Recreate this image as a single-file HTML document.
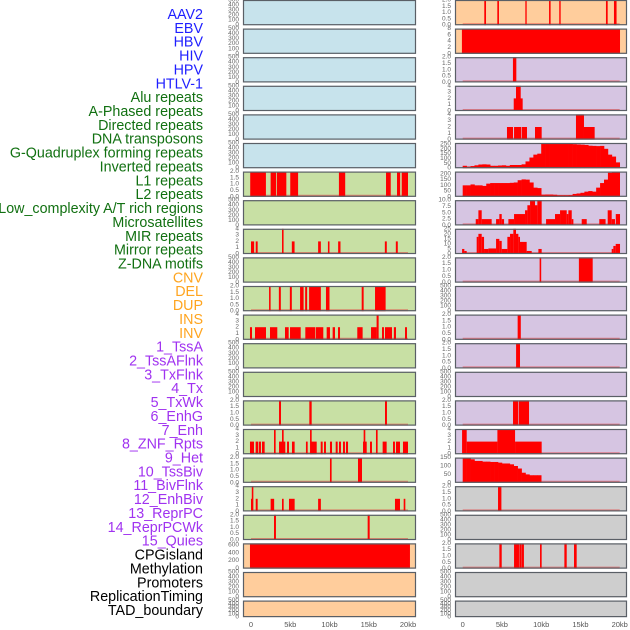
<!DOCTYPE html>
<html><head><meta charset="utf-8"><style>
html,body{margin:0;padding:0;background:#fff;width:630px;height:630px;overflow:hidden}
svg{display:block;font-family:"Liberation Sans",sans-serif}
</style></head><body>
<svg id="chart" width="630" height="630" viewBox="0 0 630 630" xmlns="http://www.w3.org/2000/svg"></svg>
<script>
// ---- data ----
const labels = ["AAV2","EBV","HBV","HIV","HPV","HTLV-1","Alu repeats","A-Phased repeats","Directed repeats","DNA transposons","G-Quadruplex forming repeats","Inverted repeats","L1 repeats","L2 repeats","Low_complexity A/T rich regions","Microsatellites","MIR repeats","Mirror repeats","Z-DNA motifs","CNV","DEL","DUP","INS","INV","1_TssA","2_TssAFlnk","3_TxFlnk","4_Tx","5_TxWk","6_EnhG","7_Enh","8_ZNF_Rpts","9_Het","10_TssBiv","11_BivFlnk","12_EnhBiv","13_ReprPC","14_ReprPCWk","15_Quies","CPGisland","Methylation","Promoters","ReplicationTiming","TAD_boundary"];
const labelGroups = [6,13,5,15,5];
const groupColors = ["#1f1fff","#117011","#ffa520","#a032f0","#000000"];
const xTicks = [0,5,10,15,20];
const xTickLabels = ["0","5kb","10kb","15kb","20kb"];
const leftBg = ["b","b","b","b","b","b","g","g","g","g","g","g","g","g","g","g","g","g","g","o","o","o"];
const rightBg = ["o","o","p","p","p","p","p","p","p","p","p","p","p","p","p","p","p","y","y","y","y","y"];
const leftMax = [500,500,500,500,500,500,2,500,4,500,2,4,500,500,2,4,2,4,2,640,500,500];
const rightMax = [2,8,2,4,4,260,220,10,25,2,500,2,2,500,2,4,150,2,500,2,500,500];
const leftTicks = {2:[0,0.5,1,1.5,2],4:[0,1,2,3,4],500:[0,100,200,300,400,500],640:[0,200,400,600]};
const rightTicksSpecial = {5:[0,50,100,150,200,250],6:[0,50,100,150,200],7:[0,2.5,5,7.5,10],8:[0,5,10,15,20,25],16:[0,50,100,150],1:[0,2,4,6,8]};
// intervals [startKb,endKb,value]
const leftBars = {
 6:[[-0.1,1.9,2],[2.5,3.2,2],[3.3,4.5,2],[5.0,6.0,2],[11.2,12.0,2],[17.2,17.8,2],[18.6,19.0,2],[19.2,20.0,2]],
 8:[[0,0.4,2],[0.6,0.85,2],[3.95,4.15,4],[5.2,5.55,2],[8.55,8.9,2],[9.8,10.0,2],[11.1,11.4,2],[17.05,17.3,2],[18.45,18.7,2]],
 10:[[2.3,2.5,2],[3.55,3.8,2],[4.95,5.2,2],[6.25,6.7,2],[6.9,7.15,2],[7.4,8.9,2],[9.55,10.0,2],[14.1,14.35,2],[15.8,17.15,2]],
 11:[[-0.13,0.13,2],[0.51,1.91,2],[2.42,3.35,2],[4.33,4.8,2],[4.97,6.33,2],[6.92,8.2,2],[8.28,9.21,2],[9.64,10.06,2],[10.4,10.7,2],[11.08,11.34,2],[13.54,14.22,2],[15.29,16.0,2],[16.0,16.26,4],[16.69,16.94,2],[17.07,17.96,2],[18.2,18.47,2],[19.62,19.87,2]],
 14:[[3.57,3.82,2],[7.43,7.73,2],[17.07,17.32,2]],
 15:[[-0.13,0.38,2],[0.59,0.93,2],[1.02,1.27,2],[1.4,1.74,2],[2.93,3.14,4],[3.57,4.37,2],[3.95,4.16,4],[4.59,4.84,2],[5.22,5.56,2],[7.0,7.22,2],[7.52,7.73,4],[7.6,8.37,2],[8.88,9.13,2],[9.3,9.55,2],[10.06,10.32,2],[10.79,11.04,2],[11.21,11.46,2],[11.72,11.97,2],[12.1,12.36,2],[14.27,14.74,2],[14.35,14.56,4],[15.16,15.41,2],[15.92,16.13,4],[16.77,17.28,2],[18.09,18.34,2],[18.47,18.98,2],[19.36,20.0,2]],
 16:[[10.06,10.27,2],[13.63,14.14,2]],
 17:[[0,0.2,2],[0.1,0.3,4],[0.6,0.85,2],[2.5,2.95,2],[3.95,4.16,2],[4.84,5.56,2],[8.55,8.9,2],[18.34,18.98,2],[19.45,19.66,2]],
 18:[[2.93,3.18,2],[14.86,15.12,2]],
 19:[[-0.13,20.25,640]]
};
const rightBars = {
 0:[[2.75,2.97,2],[4.41,4.62,2],[7.98,8.15,2],[11.0,11.2,2],[12.3,12.48,2],[18.25,18.47,2],[19.27,19.6,2]],
 1:[[-0.1,20.04,8]],
 2:[[6.4,6.83,2]],
 3:[[6.5,7.64,2],[6.79,7.39,4]],
 4:[[5.64,6.41,2],[6.54,7.43,2],[7.51,8.19,2],[9.21,10.06,2],[14.43,15.45,4],[15.45,16.81,2]],
 7:[[1.66,2.0,2.5],[2.0,2.42,6],[2.42,3.69,2.5],[4.25,4.67,2.5],[4.67,4.97,4.5],[4.97,5.27,2.5],[5.82,6.54,2.5],[6.54,7.94,4.5],[7.94,8.24,6],[8.24,8.58,8],[8.58,9.21,10],[9.21,9.51,8],[9.51,10.06,10],[10.62,11.76,2.5],[11.76,12.4,4.5],[12.4,13.25,6],[13.25,13.46,4.5],[13.46,13.89,6],[13.89,14.1,2.5],[15.16,15.8,2.5],[17.4,18.2,2.5],[18.47,18.98,6],[18.98,19.4,2.5],[19.5,20.04,4.5]],
 8:[[-0.08,0.21,5],[0.21,0.51,3],[1.78,2.0,17],[2.0,2.42,20],[2.42,2.72,17],[2.72,3.27,5],[3.27,4.25,5.5],[4.25,4.67,15],[4.67,4.97,13],[4.97,5.69,5],[5.69,6.03,17],[6.03,6.45,20],[6.45,6.79,25],[6.79,7.09,20],[7.09,7.3,17],[7.3,8.15,12],[8.15,8.79,3],[9.64,10.06,5],[18.98,19.19,5],[19.19,19.49,8],[19.49,20.04,10]],
 9:[[9.8,10.0,2],[14.8,16.56,2]],
 11:[[7.0,7.4,2]],
 12:[[6.8,7.3,2]],
 14:[[6.41,7.05,2],[7.13,8.45,2]],
 15:[[-0.08,0.51,4],[0.51,4.42,2],[4.42,6.67,4],[6.67,10.06,2]],
 17:[[4.5,4.93,2]],
 19:[[4.67,4.97,2],[6.54,7.17,2],[7.21,7.47,2],[7.5,7.8,2],[9.85,10.06,2],[12.95,13.25,2],[14.18,14.52,2]]
};
// binned profiles (0.5kb bins starting at 0)
const row5Profile = [25,15,22,30,38,40,38,25,25,28,30,25,33,33,33,40,70,110,140,150,255,250,250,252,250,252,255,250,248,245,243,240,232,230,228,230,200,140,120,60];
const row6Profile = [100,100,108,100,100,95,115,120,120,120,120,120,122,125,145,152,150,125,80,76,19,20,20,18,14,14,14,15,25,29,35,45,50,45,80,120,150,210,222,222];
const row16Profile = [150,150,140,130,130,126,126,124,124,120,115,115,110,100,85,60,50,45,45,45];
const binWidth = 0.5;

// ---- layout ----
const NS="http://www.w3.org/2000/svg";
const svg=document.getElementById('chart');
const bgColors={b:"#c7e3ec",g:"#c8e0a4",o:"#ffcd9c",p:"#d6c5e2",y:"#cecece"};
const cols=[{x0:243,x1:416,zero:251},{x0:455,x1:627,zero:462.7}];
const pxPerKb=7.85;
const rowTop=r=>r*28.6;
const rowH=r=>r===21?16.5:25.2;
function xScale(c,kb){return cols[c].zero+kb*pxPerKb;}
function yScale(r,v,max){const t=rowTop(r),h=rowH(r);return t+h-Math.min(v,max)/max*h;}
function mk(tag,attrs,parent){const e=document.createElementNS(NS,tag);for(const k in attrs)e.setAttribute(k,attrs[k]);(parent||svg).appendChild(e);return e;}

// labels
let li=0;
labelGroups.forEach((n,g)=>{for(let i=0;i<n;i++){const t=mk('text',{x:203,y:15+li*13.86,'text-anchor':'end','dominant-baseline':'central','font-size':'14.3',fill:groupColors[g]});


t.textContent=labels[li];li++;}});

function fmt(v,ticks){const dec=ticks.some(x=>x%1!==0)?1:0;return v.toFixed(dec);}

function drawPanel(c,r,bgKey,max,ticks,bars,profile){
 const g=mk('g',{});
 
 
 const x0=cols[c].x0,x1=cols[c].x1,t=rowTop(r),h=rowH(r);
 const bg=mk('rect',{x:x0,y:t,width:x1-x0,height:h,fill:bgColors[bgKey]},g);
 
 
 const hasData=(bars&&bars.length)||profile;
 if(hasData){
  const bl=mk('line',{x1:xScale(c,0),x2:xScale(c,20),y1:t+h-1,y2:t+h-1,stroke:'rgba(230,60,60,0.55)','stroke-width':2},g);
  
  
 }
 if(profile){profile.forEach((v,i)=>{const a=xScale(c,i*binWidth),b=xScale(c,(i+1)*binWidth),y=yScale(r,v,max);
  const rc=mk('rect',{x:a,y:y,width:b-a+0.3,height:t+h-y,fill:'#ff0000'},g);
  
  });}
 (bars||[]).forEach(d=>{const a=xScale(c,d[0]),b=xScale(c,d[1]),y=yScale(r,d[2],max);
  const rc=mk('rect',{x:a,y:y,width:Math.max(b-a,1.2),height:t+h-y,fill:'#ff0000'},g);
  
  });
 const br=mk('rect',{x:x0+0.5,y:t+0.5,width:x1-x0-1,height:h-1,fill:'none',stroke:'#5a5f66','stroke-width':1.2},g);
 
 
 ticks.forEach(v=>{const tt=mk('text',{x:x0-4,y:yScale(r,v,max),'text-anchor':'end','dominant-baseline':'central','font-size':'6.5',fill:'#666'},g);
  
  
  tt.textContent=fmt(v,ticks);});
}
for(let r=0;r<22;r++){
 drawPanel(0,r,leftBg[r],leftMax[r],leftTicks[leftMax[r]],leftBars[r],null);
 const rt=rightTicksSpecial[r]||leftTicks[rightMax[r]];
 const prof=r===5?row5Profile:r===6?row6Profile:r===16?row16Profile:null;
 drawPanel(1,r,rightBg[r],rightMax[r],rt,rightBars[r],prof);
}
// x axes
[0,1].forEach(c=>{xTicks.forEach((k,i)=>{const t=mk('text',{x:xScale(c,k),y:627,'text-anchor':'middle','font-size':'7.5',fill:'#555'});
 
 
 t.textContent=xTickLabels[i];});});
</script>
</body></html>
